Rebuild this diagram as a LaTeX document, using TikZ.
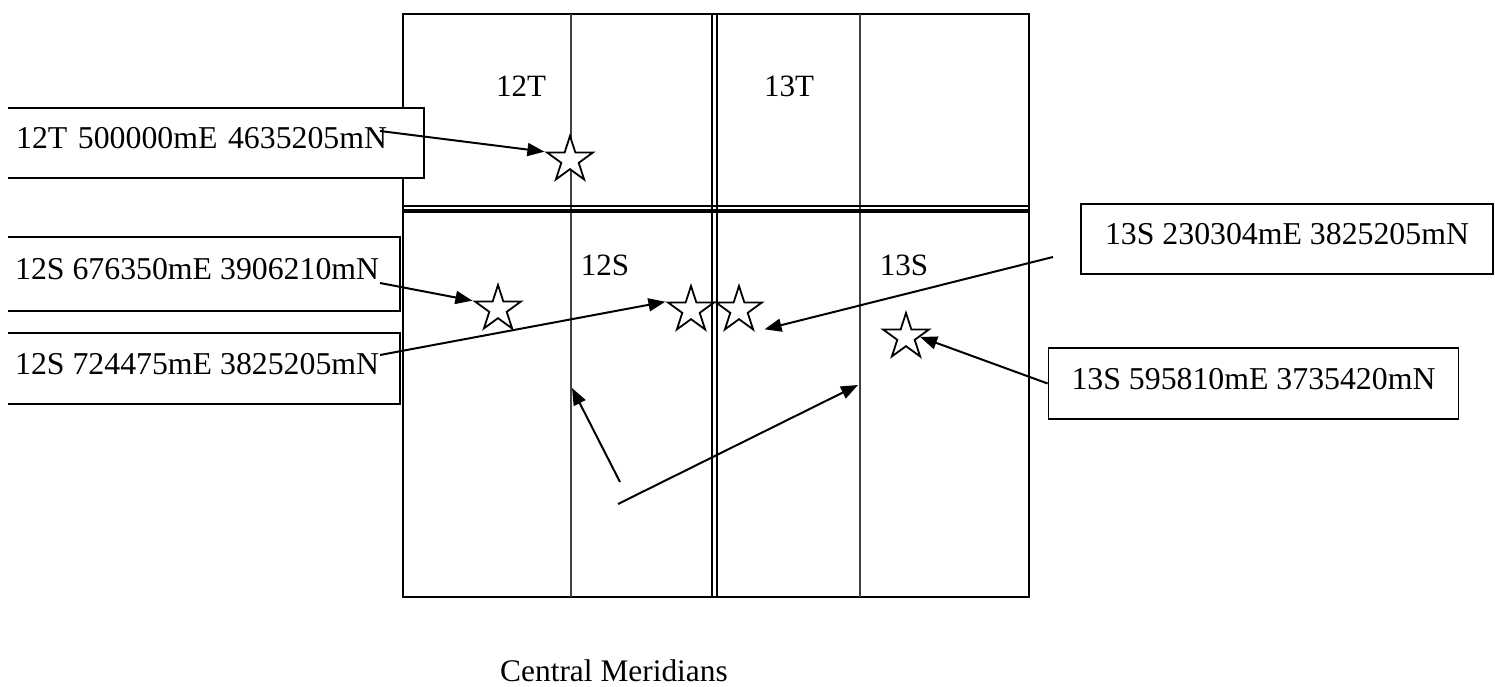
\documentclass[tikz,border=0pt]{standalone}
\usepackage{fontspec}
\setmainfont{Liberation Serif}
\usetikzlibrary{arrows.meta,shapes.geometric}

\begin{document}
\begin{tikzpicture}[x=0.5pt,y=-0.5pt,
  utmbox/.style={draw,fill=white,line width=0.9pt,
                 font=\fontsize{15.9pt}{19pt}\selectfont,
                 inner xsep=10.5pt,inner ysep=0pt,text depth=5pt},
  zone/.style={font=\fontsize{15.5pt}{18pt}\selectfont,inner sep=0pt},
  pin/.style={star,star points=5,star point ratio=2.618,draw,fill=white,
              line width=0.9pt,minimum size=24pt,inner sep=0pt},
  arr/.style={-{Triangle[length=8.5pt,width=6.5pt]},line width=1pt},
  meridian/.style={line width=0.7pt,black!75}
]
  \useasboundingbox (0,0) rectangle (1495,686);

  % zone grid
  \draw[line width=1pt] (403,14) rectangle (1029,597);
  \draw[meridian] (571,14) -- (571,597);
  \draw[meridian] (860,14) -- (860,597);
  \draw[line width=1pt] (712,14) -- (712,597);
  \draw[line width=1pt] (717,14) -- (717,597);
  \draw[line width=0.8pt] (403,206) -- (1029,206);
  \draw[line width=1.8pt] (403,211) -- (1029,211);

  \node[zone] (z12T) at (521,86)  {12T};
  \node[zone] (z13T) at (789,86)  {13T};
  \node[zone] (z12S) at (605,265) {12S};
  \node[zone] (z13S) at (904,265) {13S};

  % coordinate boxes
  \begin{scope}
    \clip (8,0) rectangle (440,686);
    \node[utmbox,anchor=east,text width=193.5pt,align=left,minimum height=35pt]
      (b12T) at (425,143) {12T 500000mE 4635205mN};
    \node[utmbox,anchor=east,minimum height=37pt] (b12Sa) at (401,274)
      {12S 676350mE 3906210mN};
    \node[utmbox,anchor=east,minimum height=35.5pt] (b12Sb) at (401,368.5)
      {12S 724475mE 3825205mN};
  \end{scope}
  \node[utmbox,inner xsep=12pt,minimum height=35pt] (b13Sa) at (1287,239)
    {13S 230304mE 3825205mN};
  \node[utmbox,inner xsep=11.5pt,minimum height=35.5pt] (b13Sb) at (1253.5,383.5)
    {13S 595810mE 3735420mN};

  % positions
  \node[pin] (sA) at (570,160) {};
  \node[pin] (sB) at (498,309) {};
  \node[pin] (sC) at (691,310) {};
  \node[pin] (sD) at (739,310) {};
  \node[pin] (sE) at (906,337) {};

  \coordinate (p1) at (380,131);
  \coordinate (p2) at (380,283);
  \coordinate (p3) at (380,355);
  \coordinate (p4) at (1053,257);
  \draw[arr] (p1) -- (sA.outer point 2);
  \draw[arr] (p2) -- (sB.outer point 2);
  \draw[arr] (p3) -- (sC.outer point 2);
  \draw[arr,shorten >=5pt] (p4) -- (sD.outer point 4);
  \draw[arr] (b13Sb.west) -- (sE.east);

  % central meridians
  \coordinate (cmL) at (620,482);
  \coordinate (cmR) at (618,504);
  \coordinate (m12) at (572,388);
  \coordinate (m13) at (858,385);
  \draw[arr] (cmL) -- (m12);
  \draw[arr] (cmR) -- (m13);
  \node[font=\fontsize{15.7pt}{18pt}\selectfont] (cap) at (614,671) {Central Meridians};
\end{tikzpicture}
\end{document}
